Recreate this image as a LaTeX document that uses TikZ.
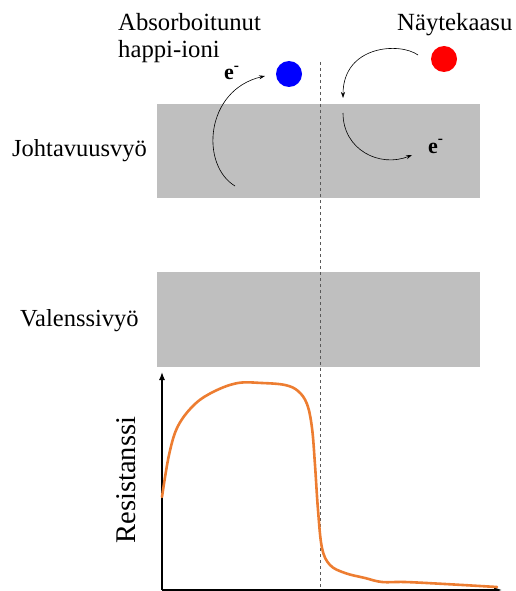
\documentclass[tikz,border=0pt]{standalone}
\usepackage{fontspec}
\setmainfont{Liberation Serif}
\usetikzlibrary{arrows.meta}
\definecolor{bandgray}{HTML}{BFBFBF}
\definecolor{curveorange}{HTML}{ED7D31}
\begin{document}
\begin{tikzpicture}[x=1pt,y=-1pt,
  lbl/.style={inner sep=0pt,anchor=base west,font=\fontsize{24.5}{27}\selectfont},
  toplbl/.style={inner sep=0pt,anchor=base west,font=\fontsize{24.7}{27}\selectfont},
  elbl/.style={inner sep=0pt,anchor=base west,font=\fontsize{22}{24}\selectfont\bfseries},
  band/.style={fill=bandgray,draw=none},
  flow/.style={line width=0.6pt,-{Stealth[length=6pt,width=4pt]}},
  axis/.style={line width=1.3pt,-{Latex[length=8pt,width=6pt]}},
  ball/.style={circle,minimum size=26pt,inner sep=0pt,draw=none}]
\useasboundingbox (0,0) rectangle (515,591);
% bands
\fill[band] (157,104) rectangle (480,198);
\fill[band] (157,272) rectangle (480,367);
% dashed line
\coordinate (dtop) at (320,62);
\coordinate (dbot) at (320,591);
\draw[black!65,line width=1pt,dash pattern=on 3pt off 3pt] (dtop) -- (dbot);
% balls
\node[ball,fill=blue] (blueball) at (289,74) {};
\node[ball,fill=red] (redball) at (444,59) {};
% labels
\node[toplbl] (abs) at (118,31) {Absorboitunut};
\node[toplbl] (happi) at (118,58) {happi-ioni};
\node[toplbl] (nayte) at (397,31) {Näytekaasu};
\node[lbl] (johto) at (12,156) {Johtavuusvyö};
\node[lbl] (valen) at (20,326) {Valenssivyö};
\node[elbl] (e1) at (224,80) {e\raisebox{2pt}{\textsuperscript{-}}};
\node[elbl] (e2) at (428,153) {e\raisebox{2pt}{\textsuperscript{-}}};
% electron arrows
\coordinate (a1s) at (235,186);
\coordinate (a1e) at (265,76);
\draw[flow] (a1s) .. controls (200,165) and (205,90) .. (a1e);
\coordinate (a2s) at (418,55);
\coordinate (a2e) at (343,98);
\draw[flow] (a2s) .. controls (400,42) and (343,45) .. (a2e);
\coordinate (a3s) at (343,113);
\coordinate (a3e) at (412,155);
\draw[flow] (a3s) .. controls (343,150) and (380,168) .. (a3e);
% axes
\coordinate (origin) at (162,590);
\coordinate (ytop) at (162,372);
\coordinate (xend) at (502,590);
\draw[axis] (origin) -- (ytop);
\draw[axis] (origin) -- (xend);
\node[inner sep=0pt,rotate=90,font=\fontsize{28.5}{30}\selectfont] (res) at (126,480) {Resistanssi};
% curve
\draw[curveorange,line width=2.6pt,line join=round,line cap=round]
  plot[smooth,tension=0.6] coordinates {(162,497) (169,455) (178,426) (195,404) (215,391) (238,383) (262,383) (285,385) (298,391) (307,404) (312,428) (315,465) (318,510) (322,548) (330,565) (345,573) (365,578) (382,582) (405,582) (445,584) (497,587)};
\end{tikzpicture}
\end{document}
